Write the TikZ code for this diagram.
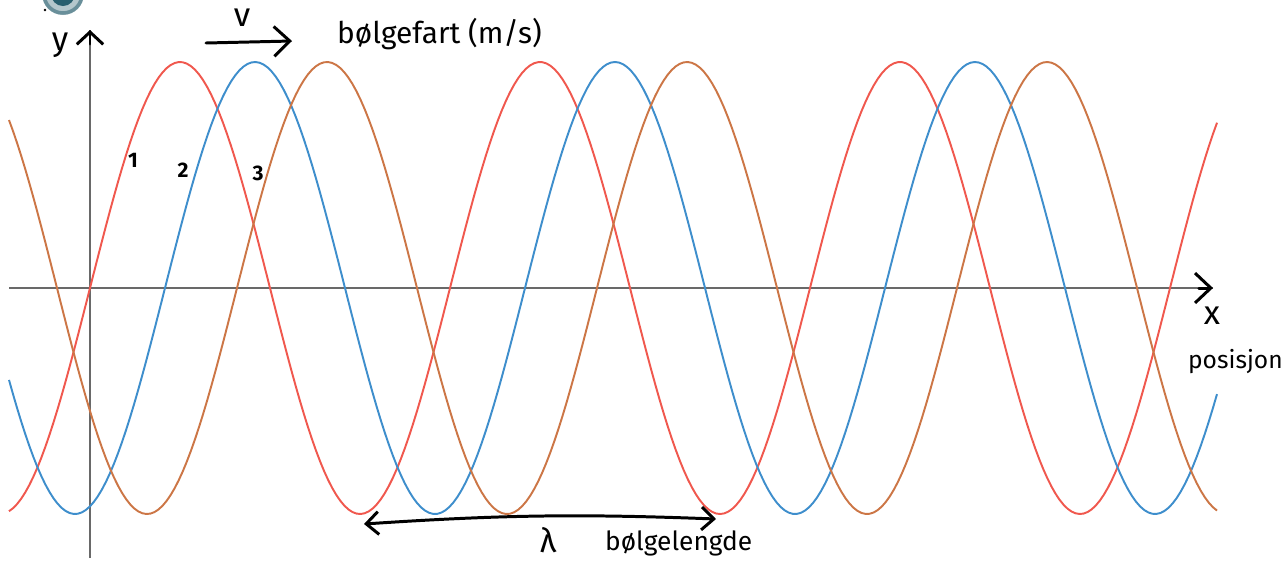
\documentclass[tikz,border=0pt]{standalone}
\usepackage{fontspec}
\setmainfont{Fira Sans}
\usepackage{tikz}
\usetikzlibrary{arrows.meta}
\definecolor{WaveRed}{RGB}{240,88,78}
\definecolor{WaveBlue}{RGB}{62,142,204}
\definecolor{WaveOrange}{RGB}{204,118,70}
\definecolor{AxisGray}{RGB}{105,105,105}
\definecolor{LogoTeal}{RGB}{40,95,110}
\tikzset{
  wave/.style={line width=1.1pt, line join=round},
  axisline/.style={AxisGray, line width=1.6pt},
  handarr/.style={-{Straight Barb[length=9pt, width=17pt, line width=1.7pt]}, line width=1.7pt, line cap=round},
  handtxt/.style={font=\fontsize{19}{21}\selectfont, inner sep=1pt},
  numtxt/.style={font=\fontsize{12}{14}\selectfont\bfseries, inner sep=1pt},
}
\begin{document}
\begin{tikzpicture}[x=0.02cm, y=-0.02cm]
  \useasboundingbox (0,0) rectangle (1283,562);
  % partial logo at the top edge
  \begin{scope}
    \clip (0,0) rectangle (1283,562);
    \fill[LogoTeal!35] (63,-6) circle (21);
    \fill[LogoTeal] (63,-6) circle (12);
    \draw[LogoTeal!70, line width=2pt] (63,-6) circle (19);
  \end{scope}
  \fill (45,10) circle (1.3);
  % axes
  \coordinate (xstart) at (9,288);
  \coordinate (xend) at (1213,288);
  \coordinate (ystart) at (90,558);
  \coordinate (yend) at (90,30);
  \draw[axisline] (xstart) -- (xend);
  \draw[axisline] (ystart) -- (yend);
  \draw[handarr] ([xshift=-8pt]xend) -- (xend);
  \draw[handarr, -{Straight Barb[length=7pt, width=15pt, line width=1.7pt]}] ([yshift=-8pt]yend) -- (yend);
  % waves
  \draw[wave, WaveRed] plot[domain=9:1217, samples=300] (\x, {288-226*sin(\x-90)});
  \draw[wave, WaveBlue] plot[domain=9:1217, samples=300] (\x, {288-226*sin(\x-165)});
  \draw[wave, WaveOrange] plot[domain=9:1217, samples=300] (\x, {288-226*sin(\x-237)});
  % axis labels
  \node[handtxt] (ylab) at (60,45) {y};
  \node[handtxt] (xlab) at (1212,316) {x};
  \node[handtxt, font=\fontsize{14}{16}\selectfont, anchor=west] (poslab) at (1186,362) {posisjon};
  % wave speed
  \coordinate (vstart) at (206,43);
  \coordinate (vend) at (292,41);
  \draw[handarr] (vstart) -- (vend);
  \node[handtxt] (vlab) at (242,18) {v};
  \node[handtxt, font=\fontsize{17}{19}\selectfont, anchor=west] (speedlab) at (335,34) {bølgefart (m/s)};
  % wave numbers
  \node[numtxt] (n1) at (133,160) {1};
  \node[numtxt] (n2) at (183,170) {2};
  \node[numtxt] (n3) at (258,173) {3};
  % wavelength
  \coordinate (lamL) at (364,524);
  \coordinate (lamR) at (716,519);
  \draw[handarr, {Straight Barb[length=7pt, width=13pt, line width=1.7pt]}-{Straight Barb[length=7pt, width=13pt, line width=1.7pt]}] (lamL) to[bend left=3] (lamR);
  \node[handtxt, font=\fontsize{19}{21}\selectfont] (lamlab) at (548,540) {λ};
  \node[handtxt, font=\fontsize{15}{17}\selectfont, anchor=west] (lengthlab) at (603,543) {bølgelengde};
\end{tikzpicture}
\end{document}
